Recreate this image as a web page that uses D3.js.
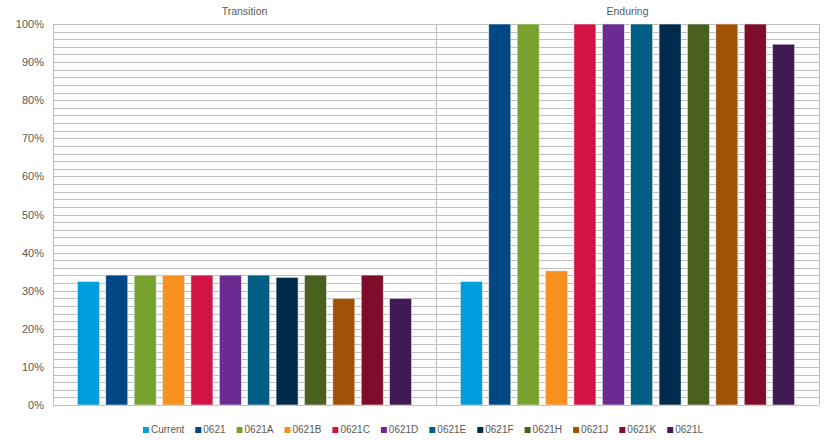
<!DOCTYPE html>
<html>
<head>
<meta charset="utf-8">
<script src="https://cdn.jsdelivr.net/npm/d3@7"></script>
<style>
  body { margin: 0; background: #fff; }
  text { font-family: "Liberation Sans", Arial, sans-serif; fill: #595959; }
</style>
</head>
<body>
<svg id="chart"></svg>
<script>
// chart values
const groups = ["Transition", "Enduring"];
const series = ["Current", "0621", "0621A", "0621B", "0621C", "0621D", "0621E", "0621F", "0621H", "0621J", "0621K", "0621L"];
const colors = ["#009ddc", "#004785", "#78a22f", "#f7901e", "#d31245", "#6a2c91", "#005e85", "#002b4d", "#4a601f", "#a05206", "#7f0c2b", "#3f1a55"];
const transition = [0.324, 0.341, 0.341, 0.341, 0.341, 0.341, 0.341, 0.335, 0.341, 0.280, 0.341, 0.280];
const enduring = [0.324, 1, 1, 0.352, 1, 1, 1, 1, 1, 1, 1, 0.947];
const yTicks = [0, 0.1, 0.2, 0.3, 0.4, 0.5, 0.6, 0.7, 0.8, 0.9, 1];

const width = 829;
const height = 440;
const padLeft = 53, padRight = 819, padTop = 24, padBottom = 405;

const svg = d3.select("#chart").attr("width", width).attr("height", height);

const y = d3.scaleLinear().domain([0, 1]).range([padBottom, padTop]);
const xGroup = d3.scaleBand().domain(groups).range([padLeft, padRight]);
const xBar = d3.scaleBand().domain(series).range([0, xGroup.bandwidth()])
  .paddingInner(0.225).paddingOuter(0.86);

// gridlines every 2%
const minor = d3.range(0, 51).map((i) => i / 50);
svg.append("g")
  .selectAll("line")
  .data(minor)
  .enter()
  .append("line")
  .attr("x1", padLeft)
  .attr("x2", padRight)
  .attr("y1", (d) => Math.round(y(d)) + 0.5)
  .attr("y2", (d) => Math.round(y(d)) + 0.5)
  .attr("stroke", "#bfbfbf")
  .attr("stroke-width", 1);

// panel borders
svg.append("g")
  .selectAll("line")
  .data([padLeft, xGroup("Enduring"), padRight])
  .enter()
  .append("line")
  .attr("x1", (d) => Math.round(d) + 0.5)
  .attr("x2", (d) => Math.round(d) + 0.5)
  .attr("y1", padTop)
  .attr("y2", padBottom)
  .attr("stroke", "#bfbfbf");

// bars
const rows = [transition, enduring];
groups.forEach((g, gi) => {
  svg.append("g")
    .attr("transform", "translate(" + xGroup(g) + ",0)")
    .selectAll("rect")
    .data(series)
    .enter()
    .append("rect")
    .attr("x", (d) => xBar(d))
    .attr("width", xBar.bandwidth())
    .attr("y", (d, i) => y(rows[gi][i]))
    .attr("height", (d, i) => y(0) - y(rows[gi][i]))
    .attr("fill", (d, i) => colors[i])
    .attr("stroke", "#e6e6e6")
    .attr("stroke-width", 0.6);

  svg.append("text")
    .attr("x", xGroup(g) + xGroup.bandwidth() / 2)
    .attr("y", 15)
    .style("text-anchor", "middle")
    .style("font-size", "10.5px")
    .text(g);
});

// y axis
const yAxis = d3.axisLeft(y).tickValues(yTicks).tickSize(0).tickPadding(9)
  .tickFormat(d3.format(".0%"));
const ya = svg.append("g").attr("transform", "translate(" + padLeft + ",0)").call(yAxis);
ya.select(".domain").remove();
ya.selectAll("text").style("font-size", "11px").style("fill", "#595959")
  .style("font-family", "Liberation Sans, Arial, sans-serif");

// legend
const legend = svg.append("g");
let lx = 0;
series.forEach((s, i) => {
  const item = legend.append("g").attr("transform", "translate(" + lx + ",0)");
  item.append("rect").attr("x", 0).attr("y", -6).attr("width", 6).attr("height", 6).attr("fill", colors[i]);
  const t = item.append("text").attr("x", 8).attr("y", 0).style("font-size", "10px").text(s);
  lx += 8 + t.node().getComputedTextLength() + 11;
});
const legendW = lx - 11;
legend.attr("transform", "translate(" + (423 - legendW / 2) + ",433)");
</script>
</body>
</html>
